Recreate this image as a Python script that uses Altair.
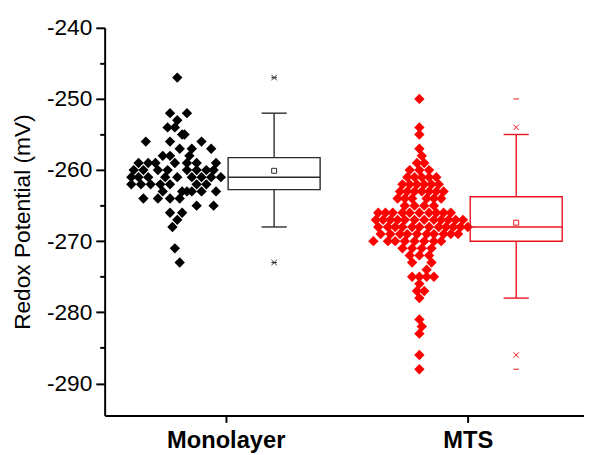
import altair as alt
import pandas as pd

groups = ["Monolayer", "MTS"]
group_pos = [1, 2]

# Monolayer scatter: values (mV) and horizontal swarm offsets
mono_y = [
    -247,
    -252, -252,
    -253,
    -254, -254,
    -255, -255,
    -256, -256, -256,
    -257, -257, -257,
    -258, -258, -258,
    -259, -259, -259, -259, -259, -259, -259,
    -260, -260, -260, -260, -260, -260, -260, -260,
    -261, -261, -261, -261, -261, -261, -261, -261, -261,
    -262, -262, -262, -262, -262, -262, -262,
    -263, -263, -263, -263, -263, -263,
    -264, -264, -264, -264,
    -265, -265,
    -266, -266,
    -267, -268, -271, -273,
]
mono_dx = [
    0.0,
    -0.03, 0.04,
    0.0,
    -0.04, -0.01,
    0.02, 0.03,
    -0.13, -0.03, 0.10,
    0.01, 0.06, 0.14,
    -0.06, -0.03, 0.05,
    -0.16, -0.12, -0.09, -0.01, 0.04, 0.08, 0.16,
    -0.18, -0.14, -0.08, -0.04, 0.04, 0.08, 0.12, 0.15,
    -0.19, -0.16, -0.12, -0.05, 0.0, 0.06, 0.10, 0.14, 0.18,
    -0.19, -0.15, -0.11, -0.07, -0.03, 0.08, 0.12,
    -0.06, 0.02, 0.04, 0.06, 0.10, 0.16,
    -0.14, -0.08, -0.03, 0.01,
    0.08, 0.15,
    -0.03, 0.02,
    0.0, -0.02, -0.01, 0.01,
]

# MTS scatter
mts_y = [
    -250, -254, -255, -257, -258,
    -259, -259,
    -260, -260, -260,
    -261, -261, -261, -261, -261,
    -262, -262, -262, -262, -262, -262,
    -263, -263, -263, -263, -263, -263, -263,
    -264, -264, -264, -264, -264, -264,
    -265, -265, -265, -265,
    -266, -266, -266, -266, -266, -266, -266, -266, -266, -266,
    -267, -267, -267, -267, -267, -267, -267, -267, -267, -267, -267, -267,
    -268, -268, -268, -268, -268, -268, -268, -268, -268, -268, -268, -268,
    -269, -269, -269, -269, -269, -269, -269, -269, -269, -269,
    -270, -270, -270, -270, -270, -270, -270, -270,
    -271, -271, -271, -271,
    -272, -272, -272,
    -273, -273,
    -274,
    -275, -275, -275, -275,
    -276,
    -277, -277,
    -278, -281, -282, -283, -286, -288,
]
mts_dx = [
    0.0, 0.0, 0.0, 0.0, 0.01,
    -0.01, 0.02,
    -0.04, 0.0, 0.04,
    -0.05, -0.02, 0.01, 0.04, 0.07,
    -0.07, -0.04, -0.01, 0.02, 0.05, 0.08,
    -0.08, -0.05, -0.02, 0.01, 0.04, 0.07, 0.10,
    -0.09, -0.06, -0.03, 0.03, 0.06, 0.09,
    -0.06, -0.02, 0.02, 0.06,
    -0.17, -0.14, -0.11, -0.07, -0.04, 0.0, 0.04, 0.07, 0.10, 0.13,
    -0.18, -0.15, -0.12, -0.09, -0.06, -0.02, 0.02, 0.06, 0.09, 0.12, 0.15, 0.18,
    -0.17, -0.13, -0.10, -0.07, -0.03, 0.0, 0.04, 0.08, 0.11, 0.14, 0.17, 0.20,
    -0.16, -0.12, -0.08, -0.05, -0.01, 0.03, 0.06, 0.10, 0.13, 0.16,
    -0.19, -0.13, -0.10, -0.06, -0.02, 0.02, 0.06, 0.09,
    -0.07, -0.03, 0.01, 0.05,
    -0.04, 0.0, 0.04,
    -0.03, 0.05,
    0.03,
    -0.03, 0.0, 0.03, 0.06,
    0.0,
    -0.01, 0.02,
    0.0, 0.0, 0.01, 0.0, 0.0, 0.0,
]

# Box statistics
box_q1 = [-262.75, -270.0]
box_median = [-261.0, -268.0]
box_q3 = [-258.25, -263.75]
whisker_low = [-268.0, -278.0]
whisker_high = [-252.0, -255.0]
box_mean = [-260.1, -267.4]
pct_low = [-273.0, -286.0]
pct_high = [-247.0, -254.0]
data_min = [-273.0, -288.0]
data_max = [-247.0, -250.0]

# layout constants
SWARM_OFFSET = -0.2
BOX_OFFSET = 0.2
BOX_HALF = 0.19
CAP_HALF = 0.052

point_colors = ["#000000", "#ff0000"]
line_colors = ["#2a2a2a", "#e8141c"]

pos_map = dict(zip(groups, group_pos))
scatter = pd.DataFrame({
    "group": ["Monolayer"] * len(mono_y) + ["MTS"] * len(mts_y),
    "y": mono_y + mts_y,
    "dx": mono_dx + mts_dx,
})
scatter["x"] = scatter["group"].map(pos_map) + SWARM_OFFSET + scatter["dx"]

box = pd.DataFrame({
    "group": groups,
    "pos": group_pos,
    "q1": box_q1, "median": box_median, "q3": box_q3,
    "lo": whisker_low, "hi": whisker_high, "mean": box_mean,
    "plo": pct_low, "phi": pct_high, "mn": data_min, "mx": data_max,
})
box["xc"] = box["pos"] + BOX_OFFSET
box["xl"] = box["xc"] - BOX_HALF
box["xr"] = box["xc"] + BOX_HALF
box["cl"] = box["xc"] - CAP_HALF
box["cr"] = box["xc"] + CAP_HALF

FONT = "Liberation Sans"

x_scale = alt.Scale(domain=[0.5, 2.48], nice=False, zero=False)
y_scale = alt.Scale(domain=[-294.5, -240], nice=False, zero=False)

x_axis = alt.Axis(
    values=[1, 2], title=None, grid=False,
    labelExpr="datum.value == 1 ? 'Monolayer' : 'MTS'",
    labelFont=FONT, labelFontSize=24, labelFontWeight="bold", labelColor="#000000",
    labelPadding=6, labelFlush=False,
    tickSize=7, tickWidth=2, tickColor="#000000",
    domainWidth=2, domainColor="#000000",
)
y_axis = alt.Axis(
    values=list(range(-290, -235, 5)), title="Redox Potential (mV)", grid=False,
    labelExpr="datum.value % 10 == 0 ? '' + datum.value : ''",
    labelFont=FONT, labelFontSize=23, labelColor="#000000", labelPadding=4,
    tickSize={"condition": {"test": "datum.value % 10 == 0", "value": 9}, "value": 5},
    tickWidth=2, tickColor="#000000",
    domainWidth=2, domainColor="#000000",
    titleFont=FONT, titleFontSize=23, titleFontWeight="normal", titleColor="#000000",
    titlePadding=12,
)

def X(field):
    return alt.X(field, type="quantitative", scale=x_scale, axis=x_axis)

def Y(field):
    return alt.Y(field, type="quantitative", scale=y_scale, axis=y_axis)

stroke_enc = alt.Stroke("group:N", scale=alt.Scale(domain=groups, range=line_colors), legend=None)

points = alt.Chart(scatter).mark_point(shape="diamond", filled=True, size=110, opacity=1).encode(
    x=X("x"), y=Y("y"),
    color=alt.Color("group:N", scale=alt.Scale(domain=groups, range=point_colors), legend=None),
)

base = alt.Chart(box)

rect = base.mark_rect(fillOpacity=0, strokeWidth=1.4).encode(
    x=X("xl"), x2="xr", y=Y("q3"), y2="q1", stroke=stroke_enc)
median = base.mark_rule(strokeWidth=1.4).encode(
    x=X("xl"), x2="xr", y=Y("median"), stroke=stroke_enc)
wh_up = base.mark_rule(strokeWidth=1.4).encode(
    x=X("xc"), y=Y("hi"), y2="q3", stroke=stroke_enc)
wh_dn = base.mark_rule(strokeWidth=1.4).encode(
    x=X("xc"), y=Y("q1"), y2="lo", stroke=stroke_enc)
cap_up = base.mark_rule(strokeWidth=1.4).encode(
    x=X("cl"), x2="cr", y=Y("hi"), stroke=stroke_enc)
cap_dn = base.mark_rule(strokeWidth=1.4).encode(
    x=X("cl"), x2="cr", y=Y("lo"), stroke=stroke_enc)
mean = base.mark_point(shape="square", size=25, filled=False, strokeWidth=1, opacity=1).encode(
    x=X("xc"), y=Y("mean"), stroke=stroke_enc)
xshape = "M-1,-1L1,1M-1,1L1,-1"
x_lo = base.mark_point(shape=xshape, size=30, filled=False, strokeWidth=1, opacity=1).encode(
    x=X("xc"), y=Y("plo"), stroke=stroke_enc)
x_hi = base.mark_point(shape=xshape, size=30, filled=False, strokeWidth=1, opacity=1).encode(
    x=X("xc"), y=Y("phi"), stroke=stroke_enc)
dshape = "M-1,0L1,0"
d_lo = base.mark_point(shape=dshape, size=30, filled=False, strokeWidth=1, opacity=1).encode(
    x=X("xc"), y=Y("mn"), stroke=stroke_enc)
d_hi = base.mark_point(shape=dshape, size=30, filled=False, strokeWidth=1, opacity=1).encode(
    x=X("xc"), y=Y("mx"), stroke=stroke_enc)

chart = alt.layer(
    points, rect, median, wh_up, wh_dn, cap_up, cap_dn, mean, x_lo, x_hi, d_lo, d_hi
).properties(
    width=486, height=393,
    padding={"left": 98, "top": 17, "right": 0, "bottom": 37},
    autosize=alt.AutoSizeParams(type="none"),
    background="#ffffff",
).configure_view(stroke=None)

chart.save("out.html", embed_options={"renderer": "svg", "actions": False})
